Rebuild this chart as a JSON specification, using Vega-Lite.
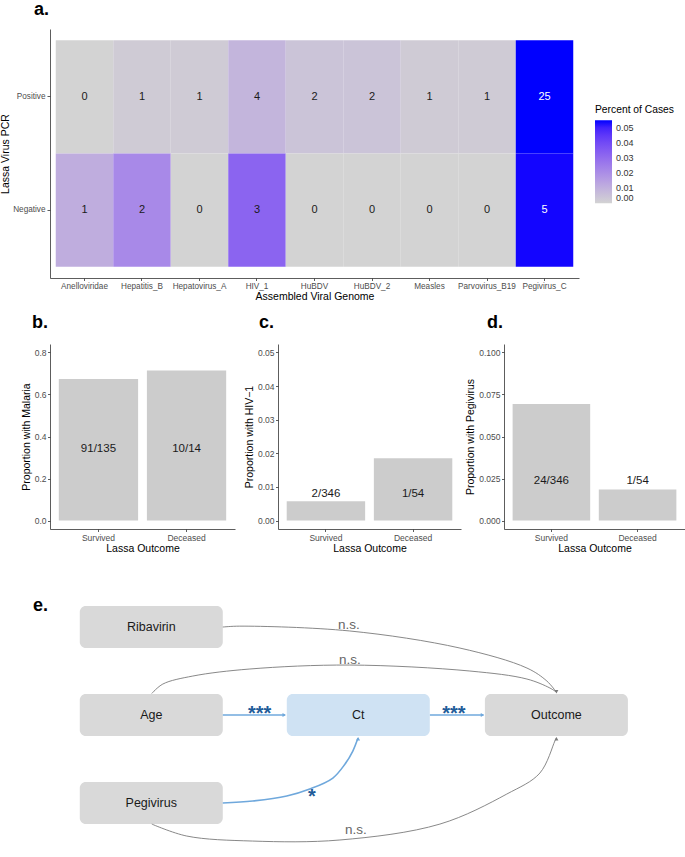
{
  "$schema": "https://vega.github.io/schema/vega-lite/v6.json",
  "background": "white",
  "padding": {"left": 0, "top": 1, "right": 0, "bottom": 0},
  "config": {
    "font": "Liberation Sans",
    "view": {"stroke": null},
    "axis": {"domainColor": "#333333", "domainWidth": 0.8, "tickColor": "#333333", "tickWidth": 0.8, "tickSize": 2.5, "labelColor": "#4D4D4D", "labelFontSize": 8.5, "labelPadding": 1.5, "titleFontSize": 10.5, "titleFontWeight": "normal", "titleColor": "#000000", "grid": false, "labelOverlap": false},
    "title": {"fontSize": 18, "fontWeight": "bold", "anchor": "start", "frame": "group", "color": "#000000"}
  },
  "bounds": "flush",
  "spacing": 66,
  "vconcat": [
    {
      "width": 529,
      "height": 249,
      "title": {"text": "a.", "dx": -16, "offset": 10},
      "data": {"values": [
        {"virus": "Anelloviridae", "pcr": "Positive", "count": 0, "pct": 0},
        {"virus": "Hepatitis_B", "pcr": "Positive", "count": 1, "pct": 0.0022},
        {"virus": "Hepatovirus_A", "pcr": "Positive", "count": 1, "pct": 0.0022},
        {"virus": "HIV_1", "pcr": "Positive", "count": 4, "pct": 0.0088},
        {"virus": "HuBDV", "pcr": "Positive", "count": 2, "pct": 0.0044},
        {"virus": "HuBDV_2", "pcr": "Positive", "count": 2, "pct": 0.0044},
        {"virus": "Measles", "pcr": "Positive", "count": 1, "pct": 0.0022},
        {"virus": "Parvovirus_B19", "pcr": "Positive", "count": 1, "pct": 0.0022},
        {"virus": "Pegivirus_C", "pcr": "Positive", "count": 25, "pct": 0.0549},
        {"virus": "Anelloviridae", "pcr": "Negative", "count": 1, "pct": 0.0109},
        {"virus": "Hepatitis_B", "pcr": "Negative", "count": 2, "pct": 0.0217},
        {"virus": "Hepatovirus_A", "pcr": "Negative", "count": 0, "pct": 0},
        {"virus": "HIV_1", "pcr": "Negative", "count": 3, "pct": 0.0326},
        {"virus": "HuBDV", "pcr": "Negative", "count": 0, "pct": 0},
        {"virus": "HuBDV_2", "pcr": "Negative", "count": 0, "pct": 0},
        {"virus": "Measles", "pcr": "Negative", "count": 0, "pct": 0},
        {"virus": "Parvovirus_B19", "pcr": "Negative", "count": 0, "pct": 0},
        {"virus": "Pegivirus_C", "pcr": "Negative", "count": 5, "pct": 0.0543}
      ]},
      "encoding": {
        "x": {"field": "virus", "type": "nominal", "sort": ["Anelloviridae", "Hepatitis_B", "Hepatovirus_A", "HIV_1", "HuBDV", "HuBDV_2", "Measles", "Parvovirus_B19", "Pegivirus_C"], "scale": {"paddingInner": 0, "paddingOuter": 0.1}, "axis": {"title": "Assembled Viral Genome", "labelAngle": 0, "labelFontSize": 8.2, "titlePadding": 2}},
        "y": {"field": "pcr", "type": "nominal", "sort": ["Positive", "Negative"], "scale": {"paddingInner": 0, "paddingOuter": 0.1}, "axis": {"title": "Lassa Virus PCR", "labelFontSize": 8.2, "tickSize": 3, "labelPadding": 2, "titlePadding": 2}}
      },
      "layer": [
        {
          "mark": {"type": "rect"},
          "encoding": {
            "color": {"field": "pct", "type": "quantitative", "scale": {"domain": [0, 0.0549], "range": ["#D3D3D3", "#0000FF"], "interpolate": "lab"},
              "legend": {"title": "Percent of Cases", "orient": "none", "legendX": 545, "legendY": 76, "direction": "vertical", "gradientLength": 83, "gradientThickness": 17, "gradientStrokeWidth": 0, "values": [0, 0.01, 0.02, 0.03, 0.04, 0.05], "format": ".2f", "titleFontSize": 10.3, "titleFontWeight": "normal", "titleColor": "#000000", "titlePadding": 5, "labelFontSize": 9, "labelColor": "#333333", "labelOffset": 4, "labelBaseline": "middle", "labelOverlap": false}}
          }
        },
        {
          "mark": {"type": "text", "fontSize": 11},
          "encoding": {
            "text": {"field": "count", "type": "quantitative"},
            "color": {"condition": {"test": "datum.pct > 0.04", "value": "#FFFFFF"}, "value": "#1A1A1A"}
          }
        }
      ]
    },
    {
      "bounds": "flush",
      "spacing": 43,
      "hconcat": [
        {
          "width": 185,
          "height": 185,
          "title": {"text": "b.", "dx": -18, "offset": 12},
          "data": {"values": [
            {"outcome": "Survived", "prop": 0.6741, "label": "91/135"},
            {"outcome": "Deceased", "prop": 0.7143, "label": "10/14"}
          ]},
          "encoding": {
            "x": {"field": "outcome", "type": "nominal", "sort": ["Survived", "Deceased"], "scale": {"paddingInner": 0.1, "paddingOuter": 0.1}, "axis": {"title": "Lassa Outcome", "labelAngle": 0, "titlePadding": 2}}
          },
          "layer": [
            {
              "mark": {"type": "bar", "color": "#CCCCCC"},
              "encoding": {
                "y": {"field": "prop", "type": "quantitative", "scale": {"domain": [-0.04, 0.84], "nice": false, "zero": false}, "axis": {"title": "Proportion with Malaria", "values": [0, 0.2, 0.4, 0.6, 0.8], "tickCount": 10, "format": ".1f", "labelOverlap": false, "titlePadding": 3}},
                "y2": {"datum": 0}
              }
            },
            {
              "mark": {"type": "text", "fontSize": 11.5, "color": "#1A1A1A"},
              "encoding": {
                "y": {"datum": 0.34, "type": "quantitative", "title": "Proportion with Malaria"},
                "text": {"field": "label", "type": "nominal"}
              }
            }
          ]
        },
        {
          "width": 183,
          "height": 185,
          "title": {"text": "c.", "dx": -19, "offset": 12},
          "data": {"values": [
            {"outcome": "Survived", "prop": 0.00578, "label": "2/346"},
            {"outcome": "Deceased", "prop": 0.01852, "label": "1/54"}
          ]},
          "encoding": {
            "x": {"field": "outcome", "type": "nominal", "sort": ["Survived", "Deceased"], "scale": {"paddingInner": 0.1, "paddingOuter": 0.1}, "axis": {"title": "Lassa Outcome", "labelAngle": 0, "titlePadding": 2}}
          },
          "layer": [
            {
              "mark": {"type": "bar", "color": "#CCCCCC"},
              "encoding": {
                "y": {"field": "prop", "type": "quantitative", "scale": {"domain": [-0.0025, 0.0525], "nice": false, "zero": false}, "axis": {"title": "Proportion with HIV−1", "values": [0, 0.01, 0.02, 0.03, 0.04, 0.05], "tickCount": 10, "format": ".2f", "labelOverlap": false, "titlePadding": 3}},
                "y2": {"datum": 0}
              }
            },
            {
              "mark": {"type": "text", "fontSize": 11.5, "color": "#1A1A1A"},
              "encoding": {
                "y": {"datum": 0.0079, "type": "quantitative", "title": "Proportion with HIV−1"},
                "text": {"field": "label", "type": "nominal"}
              }
            }
          ]
        },
        {
          "width": 181,
          "height": 185,
          "title": {"text": "d.", "dx": -17, "offset": 12},
          "data": {"values": [
            {"outcome": "Survived", "prop": 0.06936, "label": "24/346"},
            {"outcome": "Deceased", "prop": 0.01852, "label": "1/54"}
          ]},
          "encoding": {
            "x": {"field": "outcome", "type": "nominal", "sort": ["Survived", "Deceased"], "scale": {"paddingInner": 0.1, "paddingOuter": 0.1}, "axis": {"title": "Lassa Outcome", "labelAngle": 0, "titlePadding": 2}}
          },
          "layer": [
            {
              "mark": {"type": "bar", "color": "#CCCCCC"},
              "encoding": {
                "y": {"field": "prop", "type": "quantitative", "scale": {"domain": [-0.005, 0.105], "nice": false, "zero": false}, "axis": {"title": "Proportion with Pegivirus", "values": [0, 0.025, 0.05, 0.075, 0.1], "tickCount": 10, "format": ".3f", "labelOverlap": false, "titlePadding": 3}},
                "y2": {"datum": 0}
              }
            },
            {
              "mark": {"type": "text", "fontSize": 11.5, "color": "#1A1A1A"},
              "encoding": {
                "y": {"datum": 0.0238, "type": "quantitative", "title": "Proportion with Pegivirus"},
                "text": {"field": "label", "type": "nominal"}
              }
            }
          ]
        }
      ]
    },
    {
      "width": 633,
      "height": 441,
      "title": {"text": "e.", "dx": -17, "offset": -205},
      "encoding": {
        "x": {"field": "x", "type": "quantitative", "scale": {"domain": [-1, 5.25], "nice": false, "zero": false}, "axis": null},
        "y": {"field": "y", "type": "quantitative", "scale": {"domain": [-2.466, 2.545], "reverse": true, "nice": false, "zero": false}, "axis": null}
      },
      "layer": [
        {
          "data": {"values": [
            {"node": "Ribavirin", "x": 0, "y": 0},
            {"node": "Age", "x": 0, "y": 1},
            {"node": "Pegivirus", "x": 0, "y": 2},
            {"node": "Ct", "x": 2.044, "y": 1},
            {"node": "Outcome", "x": 4, "y": 1}
          ]},
          "mark": {"type": "rect", "cornerRadius": 6, "xOffset": -71.5, "x2Offset": 71.5, "yOffset": -21, "y2Offset": 21},
          "encoding": {
            "x2": {"field": "x"},
            "y2": {"field": "y"},
            "fill": {"condition": {"test": "datum.node === 'Ct'", "value": "#CFE2F3"}, "value": "#D9D9D9"}
          }
        },
        {
          "data": {"values": [
            {"edge": "rib_out", "kind": "ns", "ord": 1, "x": 0.706, "y": 0},
            {"edge": "rib_out", "kind": "ns", "ord": 2, "x": 0.874, "y": -0.01},
            {"edge": "rib_out", "kind": "ns", "ord": 3, "x": 1.96, "y": 0.045},
            {"edge": "rib_out", "kind": "ns", "ord": 4, "x": 3.047, "y": 0.239},
            {"edge": "rib_out", "kind": "ns", "ord": 5, "x": 3.709, "y": 0.466},
            {"edge": "rib_out", "kind": "ns", "ord": 6, "x": 3.906, "y": 0.614},
            {"edge": "rib_out", "kind": "ns", "ord": 7, "x": 4.0, "y": 0.74},
            {"edge": "age_out", "kind": "ns", "ord": 1, "x": 0.005, "y": 0.755},
            {"edge": "age_out", "kind": "ns", "ord": 2, "x": 0.114, "y": 0.648},
            {"edge": "age_out", "kind": "ns", "ord": 3, "x": 0.41, "y": 0.557},
            {"edge": "age_out", "kind": "ns", "ord": 4, "x": 0.973, "y": 0.477},
            {"edge": "age_out", "kind": "ns", "ord": 5, "x": 1.96, "y": 0.432},
            {"edge": "age_out", "kind": "ns", "ord": 6, "x": 3.146, "y": 0.5},
            {"edge": "age_out", "kind": "ns", "ord": 7, "x": 3.709, "y": 0.591},
            {"edge": "age_out", "kind": "ns", "ord": 8, "x": 3.936, "y": 0.693},
            {"edge": "age_out", "kind": "ns", "ord": 9, "x": 4.0, "y": 0.74},
            {"edge": "age_ct", "kind": "sig", "ord": 1, "x": 0.706, "y": 1},
            {"edge": "age_ct", "kind": "sig", "ord": 2, "x": 1.32, "y": 1},
            {"edge": "ct_out", "kind": "sig", "ord": 1, "x": 2.751, "y": 1},
            {"edge": "ct_out", "kind": "sig", "ord": 2, "x": 3.28, "y": 1},
            {"edge": "peg_ct", "kind": "sig", "ord": 1, "x": 0.706, "y": 2.0},
            {"edge": "peg_ct", "kind": "sig", "ord": 2, "x": 1.002, "y": 1.977},
            {"edge": "peg_ct", "kind": "sig", "ord": 3, "x": 1.338, "y": 1.92},
            {"edge": "peg_ct", "kind": "sig", "ord": 4, "x": 1.565, "y": 1.841},
            {"edge": "peg_ct", "kind": "sig", "ord": 5, "x": 1.793, "y": 1.716},
            {"edge": "peg_ct", "kind": "sig", "ord": 6, "x": 1.911, "y": 1.56},
            {"edge": "peg_ct", "kind": "sig", "ord": 7, "x": 1.99, "y": 1.409},
            {"edge": "peg_ct", "kind": "sig", "ord": 8, "x": 2.04, "y": 1.265},
            {"edge": "peg_out", "kind": "ns", "ord": 1, "x": 0.005, "y": 2.239},
            {"edge": "peg_out", "kind": "ns", "ord": 2, "x": 0.35, "y": 2.375},
            {"edge": "peg_out", "kind": "ns", "ord": 3, "x": 1.0, "y": 2.432},
            {"edge": "peg_out", "kind": "ns", "ord": 4, "x": 1.862, "y": 2.42},
            {"edge": "peg_out", "kind": "ns", "ord": 5, "x": 2.85, "y": 2.239},
            {"edge": "peg_out", "kind": "ns", "ord": 6, "x": 3.51, "y": 1.898},
            {"edge": "peg_out", "kind": "ns", "ord": 7, "x": 3.837, "y": 1.659},
            {"edge": "peg_out", "kind": "ns", "ord": 8, "x": 3.985, "y": 1.295},
            {"edge": "peg_out", "kind": "ns", "ord": 9, "x": 4.0, "y": 1.26}
          ]},
          "mark": {"type": "line", "interpolate": "catmull-rom"},
          "encoding": {
            "detail": {"field": "edge", "type": "nominal"},
            "order": {"field": "ord", "type": "quantitative"},
            "color": {"field": "kind", "type": "nominal", "scale": {"domain": ["ns", "sig"], "range": ["#7A7A7A", "#6FA8DC"]}, "legend": null},
            "strokeWidth": {"field": "kind", "type": "nominal", "scale": {"domain": ["ns", "sig"], "range": [0.9, 1.6]}, "legend": null}
          }
        },
        {
          "data": {"values": [
            {"x": 1.313, "y": 1, "dir": "right", "kind": "sig"},
            {"x": 3.27, "y": 1, "dir": "right", "kind": "sig"},
            {"x": 2.042, "y": 1.27, "dir": "up", "kind": "sig"},
            {"x": 4.0, "y": 0.735, "dir": "down", "kind": "ns"},
            {"x": 4.0, "y": 1.27, "dir": "up", "kind": "ns"}
          ]},
          "mark": {"type": "point", "filled": true, "size": 16, "opacity": 1},
          "encoding": {
            "shape": {"field": "dir", "type": "nominal", "scale": {"domain": ["right", "up", "down"], "range": ["triangle-right", "triangle-up", "triangle-down"]}, "legend": null},
            "color": {"field": "kind", "type": "nominal", "scale": {"domain": ["ns", "sig"], "range": ["#7A7A7A", "#6FA8DC"]}, "legend": null}
          }
        },
        {
          "data": {"values": [
            {"node": "Ribavirin", "x": 0, "y": 0},
            {"node": "Age", "x": 0, "y": 1},
            {"node": "Pegivirus", "x": 0, "y": 2},
            {"node": "Ct", "x": 2.044, "y": 1},
            {"node": "Outcome", "x": 4, "y": 1}
          ]},
          "mark": {"type": "text", "fontSize": 12.5, "color": "#1A1A1A", "baseline": "middle"},
          "encoding": {"text": {"field": "node", "type": "nominal"}}
        },
        {
          "data": {"values": [
            {"label": "n.s.", "x": 1.95, "y": 0.023},
            {"label": "n.s.", "x": 1.96, "y": 0.42},
            {"label": "n.s.", "x": 2.02, "y": 2.35}
          ]},
          "mark": {"type": "text", "fontSize": 13.5, "color": "#666666", "baseline": "alphabetic"},
          "encoding": {"text": {"field": "label", "type": "nominal"}}
        },
        {
          "data": {"values": [
            {"label": "***", "x": 1.07, "y": 1.055},
            {"label": "***", "x": 2.988, "y": 1.055},
            {"label": "*", "x": 1.585, "y": 2.0}
          ]},
          "mark": {"type": "text", "fontSize": 20, "fontWeight": "bold", "color": "#1F5C99", "baseline": "alphabetic"},
          "encoding": {"text": {"field": "label", "type": "nominal"}}
        }
      ]
    }
  ]
}
